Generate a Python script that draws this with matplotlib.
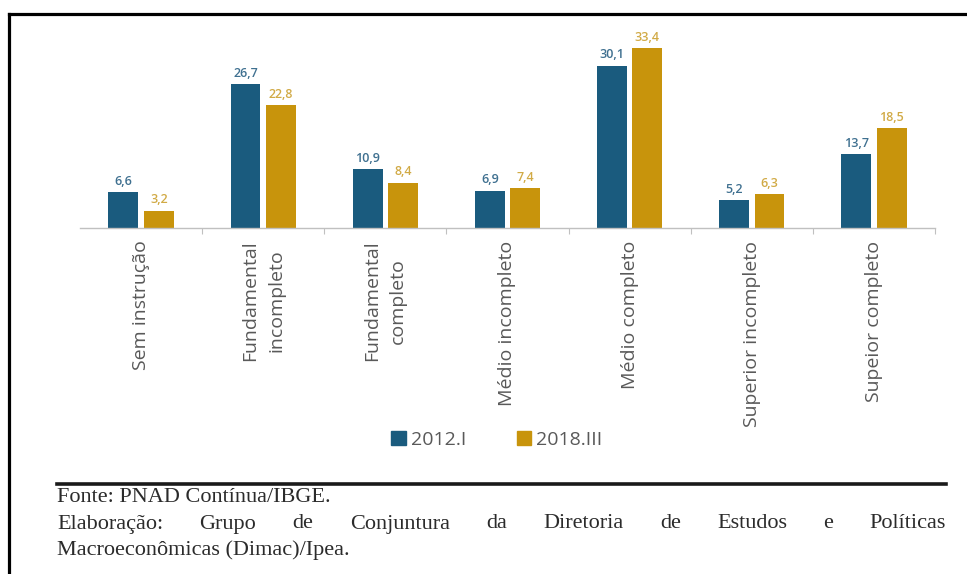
import matplotlib
matplotlib.use("Agg")
import matplotlib.pyplot as plt
from matplotlib.lines import Line2D
from matplotlib.patches import Patch
import numpy as np

categories = ["Sem instrução", "Fundamental\nincompleto", "Fundamental\ncompleto",
              "Médio incompleto", "Médio completo", "Superior incompleto", "Supeior completo"]
series_names = ["2012.I", "2018.III"]
values_2012 = [6.6, 26.7, 10.9, 6.9, 30.1, 5.2, 13.7]
values_2018 = [3.2, 22.8, 8.4, 7.4, 33.4, 6.3, 18.5]
value_labels_2012 = ["6,6", "26,7", "10,9", "6,9", "30,1", "5,2", "13,7"]
value_labels_2018 = ["3,2", "22,8", "8,4", "7,4", "33,4", "6,3", "18,5"]
source_line = "Fonte: PNAD Contínua/IBGE."
elab_line = "Elaboração: Grupo de Conjuntura da Diretoria de Estudos e Políticas"
elab_line2 = "Macroeconômicas (Dimac)/Ipea."

BLUE = "#1a5b7e"
GOLD = "#c8940c"
BLUE_TXT = "#3f7090"
GOLD_TXT = "#d1aa45"
GRAY = "#595959"

W, H = 967, 574
fig = plt.figure(figsize=(W / 100, H / 100), dpi=100)
fig.patch.set_facecolor("white")

ax_left, ax_right, ax_top, ax_bottom = 80, 935, 28, 228
ax = fig.add_axes([ax_left / W, 1 - ax_bottom / H, (ax_right - ax_left) / W, (ax_bottom - ax_top) / H])

x = np.arange(len(categories))
bw = 0.245
off = 0.145
ax.bar(x - off, values_2012, bw, color=BLUE, label=series_names[0])
ax.bar(x + off, values_2018, bw, color=GOLD, label=series_names[1])

for xi, v, lab in zip(x, values_2012, value_labels_2012):
    ax.text(xi - off, v + 0.8, lab, ha="center", va="bottom", fontsize=9,
            color=BLUE_TXT, family="Open Sans", fontweight="semibold")
for xi, v, lab in zip(x, values_2018, value_labels_2018):
    ax.text(xi + off, v + 0.8, lab, ha="center", va="bottom", fontsize=9,
            color=GOLD_TXT, family="Open Sans", fontweight="semibold")

ax.set_xlim(-0.5, len(categories) - 0.5)
ax.set_ylim(0, 37.1)
for s in ["top", "right", "left"]:
    ax.spines[s].set_visible(False)
ax.spines["bottom"].set_color("#c0c0c0")
ax.spines["bottom"].set_linewidth(1.0)
ax.set_yticks([])
ax.set_xticks(np.arange(len(categories)) + 0.5, minor=False)
ax.set_xticklabels([])
ax.tick_params(axis="x", which="major", length=4, color="#c0c0c0", direction="out")
ax.set_xticks(x, minor=True)
ax.set_xticklabels(categories, minor=True, rotation=90, fontsize=14,
                   family="Open Sans", color=GRAY, ha="center", va="top",
                   multialignment="center", linespacing=1.55)
ax.tick_params(axis="x", which="minor", length=0, pad=9)

handles = [Patch(facecolor=BLUE, edgecolor=BLUE), Patch(facecolor=GOLD, edgecolor=GOLD)]
leg = fig.legend(handles, series_names, loc="center", bbox_to_anchor=(497 / W, 1 - 440 / H),
                 ncol=2, frameon=False, handlelength=0.75, handleheight=0.75,
                 handletextpad=0.25, columnspacing=2.6,
                 prop={"family": "Open Sans", "size": 14})
for t in leg.get_texts():
    t.set_color(GRAY)

# outer frame
fig.add_artist(Line2D([9 / W, 9 / W], [1 - 14 / H, 0], transform=fig.transFigure,
                      color="black", lw=2.3, solid_capstyle="projecting"))
fig.add_artist(Line2D([9 / W, 1], [1 - 14 / H, 1 - 14 / H], transform=fig.transFigure,
                      color="black", lw=2.3, solid_capstyle="projecting"))
# rule above source
fig.add_artist(Line2D([57 / W, 946 / W], [1 - 484 / H, 1 - 484 / H], transform=fig.transFigure,
                      color="#1a1a1a", lw=2.6))

serif = {"family": "Liberation Serif", "size": 16, "color": "#2b2b2b"}
fig.text(57 / W, 1 - 497 / H, source_line, ha="left", va="center", **serif)
fig.text(57 / W, 1 - 550 / H, elab_line2, ha="left", va="center", **serif)

# justified line
fig.canvas.draw()
renderer = fig.canvas.get_renderer()
words = elab_line.split(" ")
arts = [fig.text(0, 1 - 524 / H, w, ha="left", va="center", **serif) for w in words]
widths = [a.get_window_extent(renderer).width for a in arts]
x0, x1 = 57, 946
gap = (x1 - x0 - sum(widths)) / (len(words) - 1)
cur = x0
for a, w in zip(arts, widths):
    a.set_x(cur / W)
    cur += w + gap

fig.savefig("out.png", dpi=100, facecolor="white")
